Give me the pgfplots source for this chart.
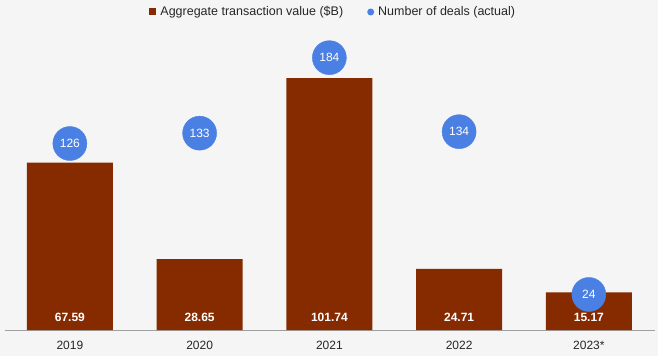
\documentclass[border=0pt]{standalone}
\usepackage{fontspec}
\setmainfont{Liberation Sans}
\usepackage{pgfplots}
\pgfplotsset{compat=1.18}
\definecolor{barc}{RGB}{134,42,0}
\definecolor{dotc}{RGB}{74,127,227}
\definecolor{bgc}{RGB}{245,245,245}
\definecolor{axc}{RGB}{160,160,160}
\begin{document}
\begin{tikzpicture}[x=1pt,y=1pt]
\fill[bgc] (-5,-26) rectangle (653,330);
\begin{axis}[
  at={(0,0)}, anchor=south west,
  scale only axis, width=650pt, height=300pt,
  xmin=-0.5, xmax=4.51, ymin=0, ymax=121.2,
  axis x line=bottom, axis y line=none,
  axis line style={draw=axc, -, line width=0.8pt},
  xtick={0,1,2,3,4}, xticklabels={2019,2020,2021,2022,2023*},
  major tick length=0pt,
  xticklabel style={font=\fontsize{12}{14}\selectfont, text=black!85, yshift=-8pt},
  legend columns=2,
  legend style={at={(0.505,1.06)}, anchor=center, draw=none, fill=none,
    font=\fontsize{12.5}{14}\selectfont, text=black!85,
    /tikz/every even column/.append style={column sep=22pt}},
  clip=false,
]
\addlegendimage{legend image code/.code={\fill[barc, draw=none] (0pt,-3.5pt) rectangle (7pt,3.5pt); \path[draw=none, fill=none] (0pt,0pt) -- (9pt,0pt);}}
\addlegendentry{Aggregate transaction value (\$B)}
\addlegendimage{legend image code/.code={\fill[dotc, draw=none] (3.5pt,0pt) circle (3.5pt); \path[draw=none, fill=none] (0pt,0pt) -- (9pt,0pt);}}
\addlegendentry{Number of deals (actual)}
\addplot[ybar, bar width=86pt, fill=barc, draw=none, forget plot]
  coordinates {(0,67.59) (1,28.65) (2,101.74) (3,24.71) (4,15.17)};
\addplot[only marks, mark=none, forget plot,
  nodes near coords, point meta=explicit symbolic,
  every node near coord/.append style={anchor=south, yshift=5pt, text=white,
    font=\bfseries\fontsize{12}{14}\selectfont}]
  table[meta=lab] {
x y lab
0 0 67.59
1 0 28.65
2 0 101.74
3 0 24.71
4 0 15.17
};
\end{axis}
\begin{axis}[
  at={(0,0)}, anchor=south west,
  scale only axis, width=650pt, height=300pt,
  xmin=-0.5, xmax=4.51, ymin=0, ymax=202.7,
  hide x axis, hide y axis, clip=false,
]
\addplot[only marks, mark=*, mark size=17pt, color=dotc,
  nodes near coords, point meta=explicit symbolic,
  every node near coord/.append style={anchor=center, text=white,
    font=\fontsize{12}{14}\selectfont}]
  table[meta=lab] {
x y lab
0 126 126
1 133 133
2 184 184
3 134 134
4 24 24
};
\end{axis}
\end{tikzpicture}
\end{document}
